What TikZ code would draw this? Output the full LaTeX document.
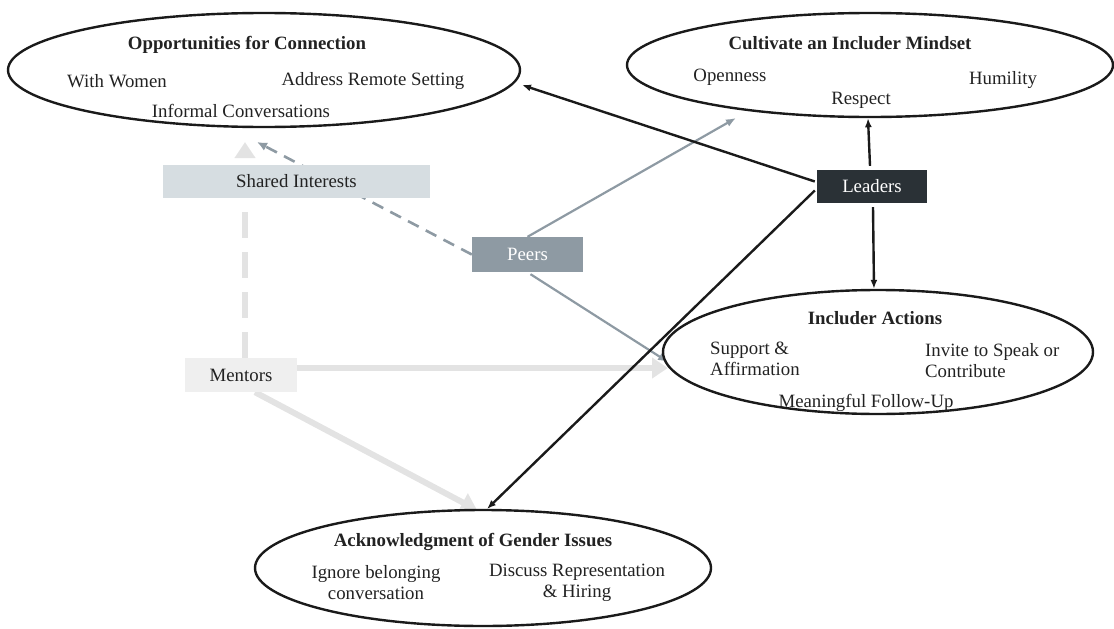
\documentclass[tikz,border=0pt]{standalone}
\usepackage{fontspec}
\setmainfont{Liberation Serif}
\usetikzlibrary{shapes.geometric,arrows.meta,calc,backgrounds}
\definecolor{dk}{HTML}{1A1A1A}
\definecolor{peerc}{HTML}{8E9AA3}
\definecolor{leadc}{HTML}{2A3136}
\definecolor{sharec}{HTML}{D6DDE1}
\definecolor{mentc}{HTML}{EFEFEF}
\definecolor{lightarr}{HTML}{E3E3E3}
\definecolor{txt}{HTML}{222222}
\tikzset{
  oval/.style={ellipse,draw=dk,line width=2.4pt,inner sep=0pt},
  lbl/.style={font=\fontsize{18.8}{21}\selectfont,text=txt,inner sep=0pt,align=center},
  ttl/.style={lbl,font=\fontsize{18.8}{21}\selectfont\bfseries},
  box/.style={rectangle,inner sep=0pt,font=\fontsize{18.8}{21}\selectfont},
  darr/.style={draw=dk,line width=2.4pt,-{Latex[length=9pt,width=7pt]}},
  parr/.style={draw=peerc,line width=2.2pt,-{Latex[length=10pt,width=8pt]}},
  marr/.style={draw=lightarr,line width=6pt,-{Triangle[length=16pt,width=20pt]}},
}
\begin{document}
\begin{tikzpicture}[x=1pt,y=-1pt]
\useasboundingbox (0,0) rectangle (1114,629);
% ellipses
\node[oval,minimum width=512pt,minimum height=114pt] (e1) at (264,70) {};
\node[oval,minimum width=486pt,minimum height=104pt] (e2) at (870,65) {};
\node[oval,minimum width=430pt,minimum height=124pt] (e3) at (878,352) {};
\node[oval,minimum width=456pt,minimum height=116pt] (e4) at (483,568) {};
% ellipse texts
\node[ttl] (t1) at (247,45) {Opportunities for Connection};
\node[lbl] (t1a) at (117,81) {With Women};
\node[lbl] (t1b) at (373,81) {Address Remote Setting};
\node[lbl] (t1c) at (241,111) {Informal Conversations};
\node[ttl] (t2) at (850,43) {Cultivate an Includer Mindset};
\node[lbl] (t2a) at (730,77) {Openness};
\node[lbl] (t2b) at (1003,80) {Humility};
\node[lbl] (t2c) at (861,100) {Respect};
\node[ttl] (t3) at (875,318) {Includer Actions};
\node[lbl,align=left,anchor=west] (t3a) at (710,359) {Support \&\\Affirmation};
\node[lbl,align=left,anchor=west] (t3b) at (925,361) {Invite to Speak or\\Contribute};
\node[lbl] (t3c) at (866,403) {Meaningful Follow-Up};
\node[ttl] (t4) at (473,542) {Acknowledgment of Gender Issues};
\node[lbl] (t4a) at (376,583) {Ignore belonging\\conversation};
\node[lbl] (t4b) at (577,583) {Discuss Representation\\\& Hiring};
% boxes
\node[box,fill=sharec,text=txt,minimum width=267pt,minimum height=33pt] (S) at (296.5,181.5) {Shared Interests};
\node[box,fill=peerc,text=white,minimum width=111pt,minimum height=35pt] (P) at (527.5,254.5) {Peers};
\node[box,fill=leadc,text=white,minimum width=110pt,minimum height=33pt] (L) at (872,186.5) {Leaders};
\node[box,fill=mentc,text=txt,minimum width=112pt,minimum height=34pt] (M) at (241,375) {Mentors};
% endpoints
\coordinate (oppT) at (522,85);
\coordinate (cultT) at (736,118);
\coordinate (actT) at (668,362);
\coordinate (ackT) at (487,509);
\coordinate (ackM) at (477,510);
\coordinate (oppM) at (245,142);
\coordinate (oppP) at (257,142);
\coordinate (actM) at (668,368);
\begin{scope}[on background layer]
% mentors arrows (light)
\draw[marr,dash pattern=on 26pt off 14pt] (M.north -| oppM) -- (oppM);
\draw[marr] (M.east |- actM) -- (actM);
\draw[marr] ($(M.south)+(14,0)$) -- (ackM);
% peers arrows
\draw[draw=peerc,line width=2.6pt,dash pattern=on 12pt off 8pt,-{Latex[length=10pt,width=9pt]}] (P.west) -- (oppP);
\draw[parr] (P.north) -- (cultT);
\draw[parr] ($(P.south)+(3,2)$) -- (actT);
% leaders arrows
\draw[darr] ($(L.west)+(-2,-5)$) -- (oppT);
\draw[darr] ($(L.north)+(-2,-4)$) -- ([xshift=-2pt]e2.south);
\draw[darr] ($(L.south)+(1,4)$) -- ([xshift=-4pt]e3.north);
\draw[darr] ($(L.west)+(-2,4)$) -- (ackT);
\end{scope}
\end{tikzpicture}
\end{document}
